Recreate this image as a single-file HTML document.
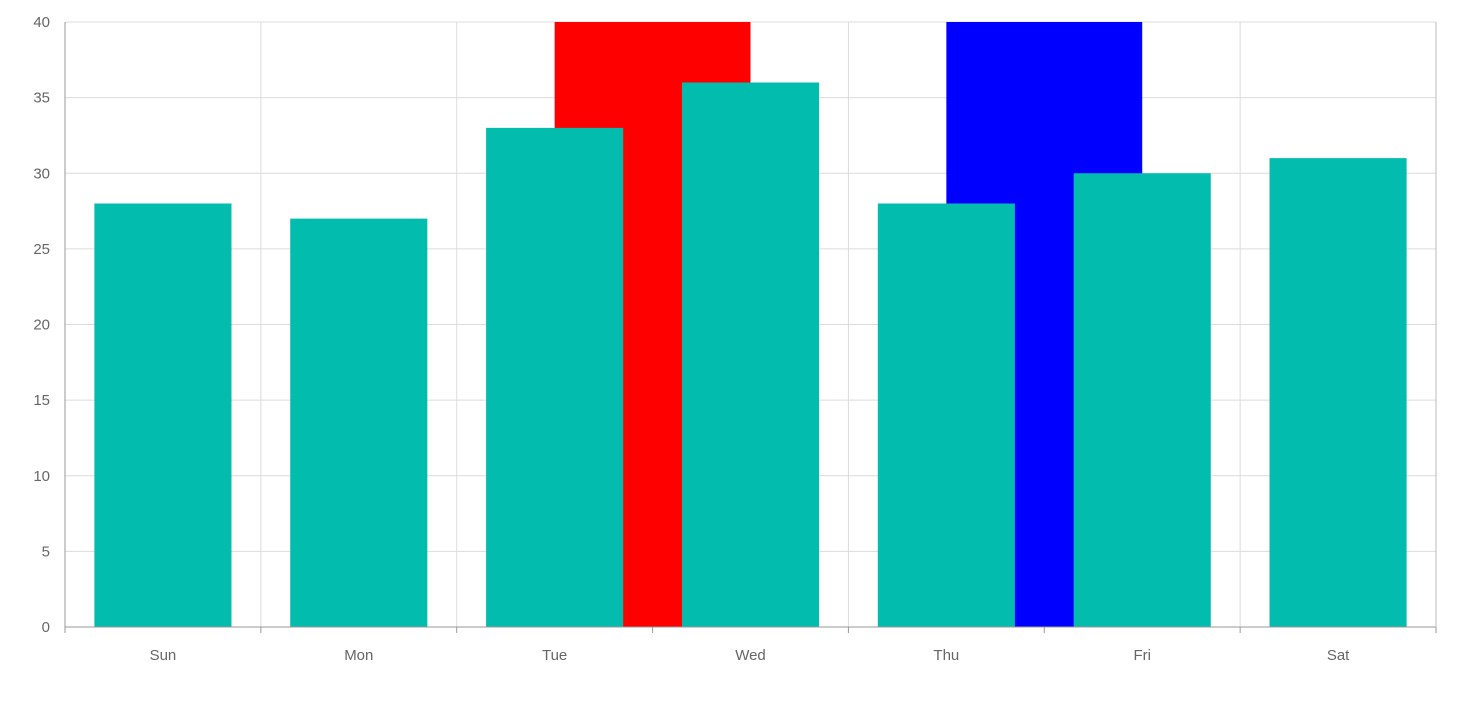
<!DOCTYPE html>
<html><head><meta charset="utf-8"><style>
html,body{margin:0;padding:0;background:#fff;}
svg text{font-family:"Liberation Sans",sans-serif;font-size:15px;fill:#666;}
</style></head><body>
<svg id="chart" width="1459" height="707" xmlns="http://www.w3.org/2000/svg">
<g id="grid"></g>
<g id="bands"></g>
<g id="bars"></g>
<g id="axes"></g>
</svg>
<script>
const categories = ["Sun","Mon","Tue","Wed","Thu","Fri","Sat"];
const values = [28,27,33,36,28,30,31];
const yTicks = [0,5,10,15,20,25,30,35,40];
const bandFrom = ["Tue","Thu"];
const bandTo = ["Wed","Fri"];
const bandColors = ["#ff0000","#0000ff"];

const L=65,R=1436,T=22,B=627,yMax=40;
const bw=(R-L)/categories.length;
const x=i=>L+i*bw;
const xc=c=>x(categories.indexOf(c))+bw/2;
const y=v=>B-(v/yMax)*(B-T);
const NS="http://www.w3.org/2000/svg";
function mk(tag,attrs,parent){const e=document.createElementNS(NS,tag);for(const k in attrs)e.setAttribute(k,attrs[k]);document.getElementById(parent).appendChild(e);return e;}

bandFrom.forEach((f,i)=>{
  const r=mk("rect",{x:xc(f),y:T,width:xc(bandTo[i])-xc(f),height:B-T,fill:bandColors[i]},"bands");
  
  
});
yTicks.forEach(t=>{
  const l=mk("line",{x1:L,x2:R,y1:y(t),y2:y(t),stroke:"#dcdcdc","stroke-width":1},"grid");
  
  
  const tx=mk("text",{x:L-15,y:y(t)+5,"text-anchor":"end"},"axes");
  tx.textContent=t;
  
  
});
for(let i=0;i<=categories.length;i++){
  const l=mk("line",{x1:x(i),x2:x(i),y1:T,y2:B,stroke:"#dcdcdc","stroke-width":1},"grid");
  
  
  const tk=mk("line",{x1:x(i),x2:x(i),y1:B,y2:B+6,stroke:"#999","stroke-width":1},"axes");
  
  
}
categories.forEach((c,i)=>{
  const w=bw*0.7;
  const r=mk("rect",{x:x(i)+(bw-w)/2,y:y(values[i]),width:w,height:B-y(values[i]),fill:"#02bdae"},"bars");
  
  
  const tx=mk("text",{x:x(i)+bw/2,y:B+33,"text-anchor":"middle"},"axes");
  tx.textContent=c;
  
  
});
const ax=mk("line",{x1:L,x2:R,y1:B,y2:B,stroke:"#999","stroke-width":1},"axes");


const ay=mk("line",{x1:L,x2:L,y1:T,y2:B,stroke:"#999","stroke-width":1},"axes");


const ay2=mk("line",{x1:R,x2:R,y1:T,y2:B,stroke:"#bbb","stroke-width":1},"axes");


</script>
</body></html>
